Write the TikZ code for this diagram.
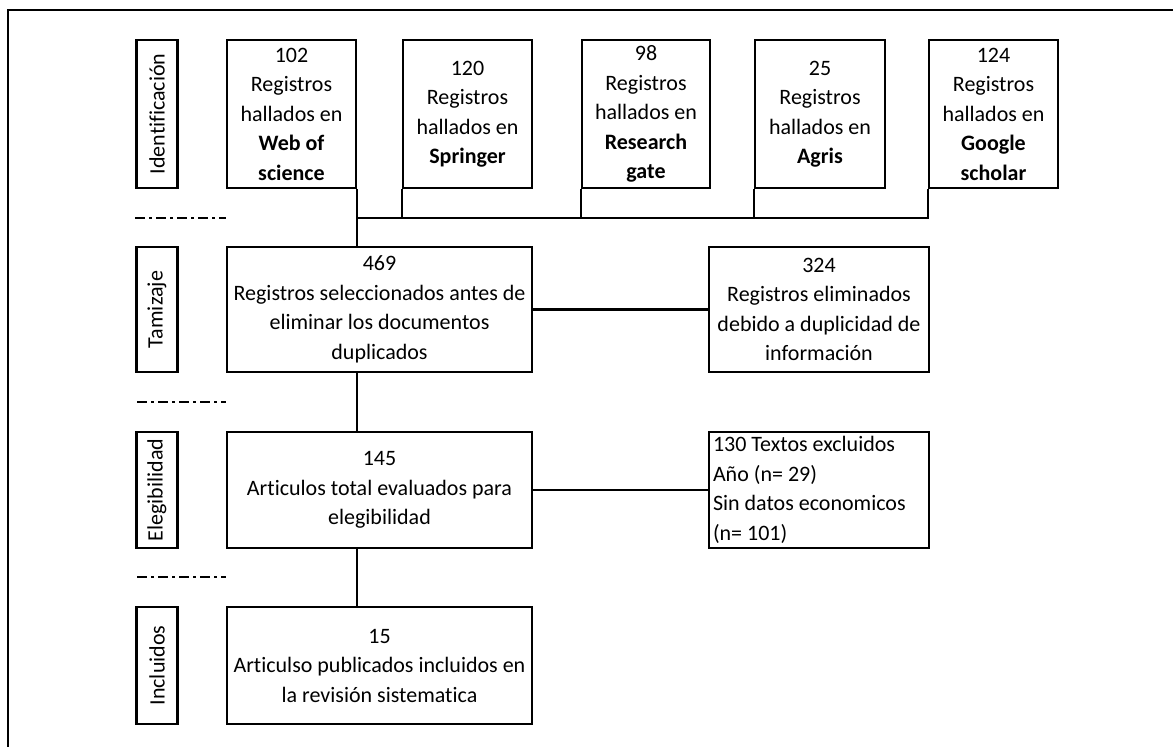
\documentclass[tikz,border=0pt]{standalone}
\usepackage{fontspec}
\setmainfont{Carlito}[Ligatures=NoCommon]
\usepackage{graphicx}
\begin{document}
\begin{tikzpicture}[x=1pt,y=-1pt,
  every node/.style={font=\fontsize{22}{29.5}\selectfont},
  box/.style={draw, line width=2.2pt, inner sep=0pt, align=center},
  lbl/.style={draw, line width=2.2pt, inner sep=0pt, minimum width=41pt},
  conn/.style={line width=2.2pt},
  sep/.style={line width=2pt, dash pattern=on 10pt off 4pt on 3pt off 4pt}]
\useasboundingbox (0,0) rectangle (1173,747);
% frame
\draw[line width=2.2pt] (8,747) -- (8,10) -- (1173,10);
% phase labels
\node[lbl, minimum height=148pt] (lid) at (157,114) {\rotatebox{90}{Identificación}};
\node[lbl, minimum height=125pt] (ltam) at (157,309.5) {\rotatebox{90}{Tamizaje}};
\node[lbl, minimum height=116pt] (lele) at (157,490) {\rotatebox{90}{Elegibilidad}};
\node[lbl, minimum height=117pt] (linc) at (157,665.5) {\rotatebox{90}{Incluidos}};
% identification boxes
\node[box, minimum width=129pt, minimum height=148pt] (wos) at (291.5,114) {102\\Registros\\hallados en\\\textbf{Web of}\\\textbf{science}};
\node[box, minimum width=129pt, minimum height=148pt] (spr) at (467.5,114) {120\\Registros\\hallados en\\\textbf{Springer}};
\node[box, minimum width=128pt, minimum height=148pt] (rg) at (646,114) {98\\Registros\\hallados en\\\textbf{Research}\\\textbf{gate}};
\node[box, minimum width=130pt, minimum height=148pt] (agr) at (820,114) {25\\Registros\\hallados en\\\textbf{Agris}};
\node[box, minimum width=129pt, minimum height=148pt] (gs) at (993.5,114) {124\\Registros\\hallados en\\\textbf{Google}\\\textbf{scholar}};
% other boxes
\node[box, minimum width=305pt, minimum height=125pt] (n469) at (379.5,309.5) {469\\Registros seleccionados antes de\\eliminar los documentos\\duplicados};
\node[box, minimum width=220pt, minimum height=125pt] (n324) at (819,309.5) {324\\Registros eliminados\\debido a duplicidad de\\información};
\node[box, minimum width=305pt, minimum height=116pt] (n145) at (379.5,490) {145\\Articulos total evaluados para\\elegibilidad};
\node[box, minimum width=220pt, minimum height=116pt, align=flush left, text width=212pt, inner xsep=4pt] (n130) at (819,490) {130 Textos excluidos\\Año (n= 29)\\Sin datos economicos\\(n= 101)};
\node[box, minimum width=305pt, minimum height=117pt] (n15) at (379.5,665.5) {15\\Articulso publicados incluidos en\\la revisión sistematica};
% bus
\coordinate (bus) at (356,218);
\coordinate (d2) at (137,402);
\coordinate (d3) at (137,577);
\draw[conn] (gs.south west) |- (bus);
\draw[conn] (spr.south west) -- (spr.south west |- bus);
\draw[conn] (rg.south west) -- (rg.south west |- bus);
\draw[conn] (agr.south west) -- (agr.south west |- bus);
\draw[conn] (wos.south east) -- (wos.south east |- n469.north);
\draw[conn] (n469.east) -- (n324.west);
\draw[conn] (wos.south east |- n469.south) -- (wos.south east |- n145.north);
\draw[conn] (n145.east) -- (n130.west);
\draw[conn] (wos.south east |- n145.south) -- (wos.south east |- n15.north);
% phase separators
\draw[sep] (lid.south west |- bus) -- (wos.south west |- bus);
\draw[sep] (d2) -- (wos.south west |- d2);
\draw[sep] (d3) -- (wos.south west |- d3);
\end{tikzpicture}
\end{document}
